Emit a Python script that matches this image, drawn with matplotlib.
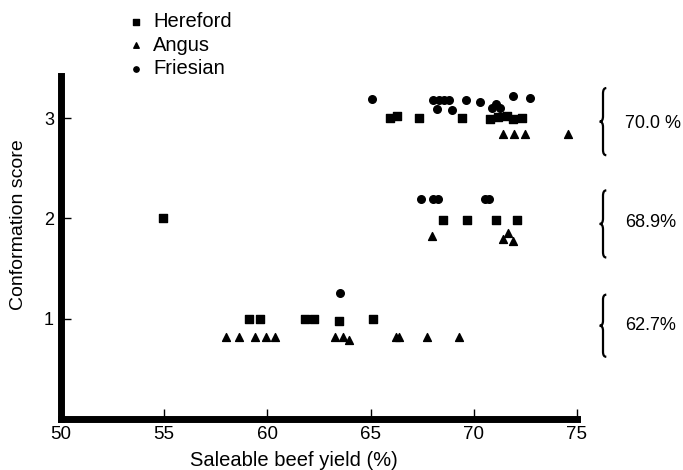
import matplotlib
matplotlib.use("Agg")
import matplotlib.pyplot as plt
from matplotlib.path import Path
from matplotlib.patches import PathPatch

plt.rcParams['font.family'] = ['Liberation Sans', 'DejaVu Sans']

# Hereford (squares)
hereford_x = [54.94, 59.11, 59.64, 61.82, 62.26, 63.47, 65.12,
              68.52, 69.66, 71.06, 72.11,
              65.94, 66.26, 67.34, 69.41, 70.78, 71.19, 71.59, 71.88, 72.32]
hereford_y = [2.00, 1.00, 1.00, 1.00, 1.00, 0.98, 1.00,
              1.98, 1.98, 1.98, 1.98,
              3.00, 3.02, 3.00, 3.00, 2.99, 3.01, 3.02, 2.99, 3.00]

# Angus (triangles)
angus_x = [58.01, 58.62, 59.38, 59.93, 60.37, 63.28, 63.65, 63.97,
           66.22, 66.39, 67.72, 69.27,
           67.96, 71.43, 71.67, 71.88,
           71.40, 71.95, 72.48, 74.58]
angus_y = [0.82, 0.82, 0.82, 0.82, 0.82, 0.82, 0.82, 0.79,
           0.82, 0.82, 0.82, 0.82,
           1.82, 1.79, 1.85, 1.77,
           2.84, 2.84, 2.84, 2.84]

# Friesian (circles)
friesian_x = [63.50,
              67.43, 68.04, 68.28, 70.54, 70.75,
              65.05, 68.04, 68.31, 68.56, 68.81, 68.23, 68.93, 69.62,
              70.30, 70.87, 71.08, 71.27, 71.88, 72.72]
friesian_y = [1.26,
              2.19, 2.19, 2.19, 2.19, 2.19,
              3.19, 3.18, 3.18, 3.18, 3.18, 3.09, 3.08, 3.18,
              3.16, 3.10, 3.14, 3.10, 3.22, 3.20]

# mean yield per conformation score group
group_labels = ["70.0 %", "68.9%", "62.7%"]
group_y = [2.95, 1.96, 0.93]
brace_spans = [(2.63, 3.30), (1.61, 2.28), (0.62, 1.24)]


def draw_brace(ax, x, y0, y1, w=0.32):
    ym = (y0 + y1) / 2
    xl, xm, xr = x - w / 2, x, x + w / 2
    d = (y1 - y0) * 0.08
    verts = [(xr, y1), (xm, y1), (xm, y1 - d),
             (xm, ym + d), (xm, ym), (xl, ym),
             (xm, ym), (xm, ym - d),
             (xm, y0 + d), (xm, y0), (xr, y0)]
    codes = [Path.MOVETO, Path.CURVE3, Path.CURVE3,
             Path.LINETO, Path.CURVE3, Path.CURVE3,
             Path.CURVE3, Path.CURVE3,
             Path.LINETO, Path.CURVE3, Path.CURVE3]
    ax.add_patch(PathPatch(Path(verts, codes), fill=False, lw=1.6,
                           color="black", clip_on=False))


fig = plt.figure(figsize=(6.83, 4.70), dpi=100)
ax = fig.add_axes([0.0893, 0.1085, 0.7555, 0.7298])

ax.scatter(hereford_x, hereford_y, marker="s", s=30, color="black", label="Hereford", clip_on=False)
ax.scatter(angus_x, angus_y, marker="^", s=32, color="black", label="Angus", clip_on=False)
ax.scatter(friesian_x, friesian_y, marker="o", s=30, color="black", label="Friesian", clip_on=False)

ax.set_xlim(50, 75)
ax.set_ylim(0, 3.42)
ax.set_xticks([50, 55, 60, 65, 70, 75])
ax.set_yticks([1, 2, 3])

for s in ["top", "right"]:
    ax.spines[s].set_visible(False)
for s in ["left", "bottom"]:
    ax.spines[s].set_linewidth(5)

ax.tick_params(axis="x", direction="in", length=7, width=1, pad=5, labelsize=13.5)
ax.tick_params(axis="y", direction="in", length=7, width=1, pad=5, labelsize=13)

ax.text(0.4506, -0.12, "Saleable beef yield (%)", transform=ax.transAxes,
        ha="center", va="center", fontsize=14.5)
ax.text(-0.082, 0.566, "Conformation score", transform=ax.transAxes,
        ha="center", va="center", rotation=90, fontsize=14)

for (y0, y1), lab, ly in zip(brace_spans, group_labels, group_y):
    draw_brace(ax, 76.26, y0, y1)
    ax.text(77.33, ly, lab, ha="left", va="center", fontsize=13)

fig.legend(loc="upper left", bbox_to_anchor=(0.173, 1.0), frameon=False,
           fontsize=14.5, handlelength=0.6, handletextpad=0.55,
           labelspacing=0.22, markerscale=0.7, borderaxespad=0.2)

fig.savefig("out.png", dpi=100, facecolor="white")
